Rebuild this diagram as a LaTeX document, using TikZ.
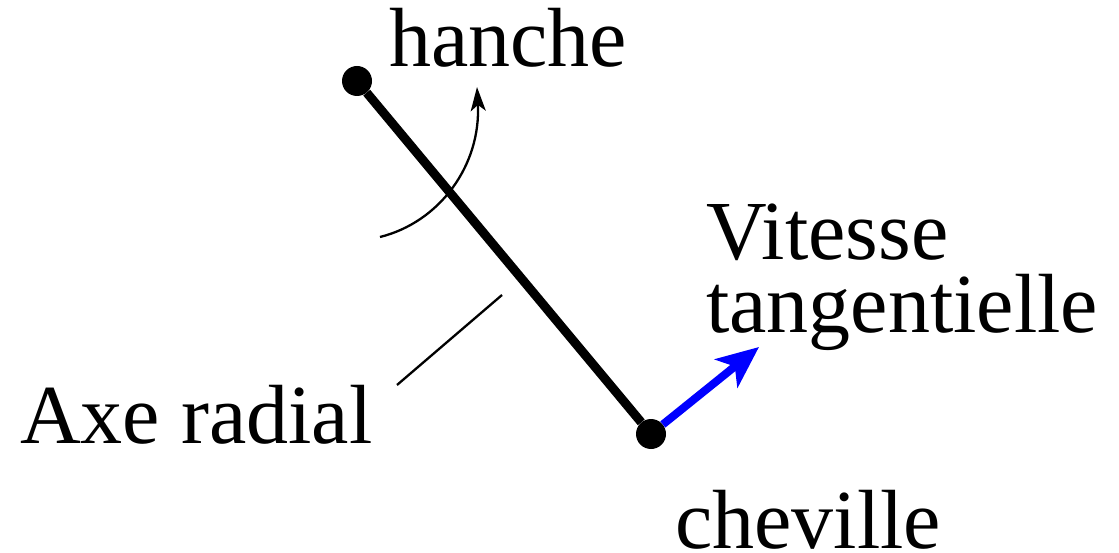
\documentclass[tikz,border=0pt]{standalone}
\usepackage{fontspec}
\setmainfont{Liberation Serif}
\usetikzlibrary{arrows.meta}
\tikzset{
  joint/.style={circle,fill=black,inner sep=0pt,minimum size=30pt},
  lbl/.style={anchor=base west,inner sep=0pt,font=\fontsize{84}{73}\selectfont,align=left},
  segment/.style={line width=9pt},
  thin line/.style={line width=2.3pt},
  vel/.style={blue,line width=8pt,-{Stealth[length=42pt,width=36pt,inset=11pt]}},
  rot/.style={line width=2.3pt,-{Stealth[length=24pt,width=15pt,inset=6pt]}}
}
\begin{document}
\begin{tikzpicture}[x=1pt,y=-1pt]
\useasboundingbox (0,0) rectangle (1119,553);
\node[joint] (hip) at (357,81) {};
\node[joint] (ankle) at (651,434) {};
\draw[segment] (hip) -- (ankle);
\coordinate (vtip) at (759,347);
\draw[vel] (ankle) -- (vtip);
\coordinate (rs) at (380,237);
\coordinate (re) at (477,87);
\draw[rot] (rs) .. controls (440,222) and (481,165) .. (re);
\coordinate (as) at (397,385);
\coordinate (ae) at (502,295);
\draw[thin line] (as) -- (ae);
\node[lbl] (hanche) at (389,67) {hanche};
\node[lbl] (axe) at (20,443) {Axe radial};
\node[lbl] (vit) at (706,332) {Vitesse\\tangentielle};
\node[lbl] (chev) at (675,548) {cheville};
\end{tikzpicture}
\end{document}
